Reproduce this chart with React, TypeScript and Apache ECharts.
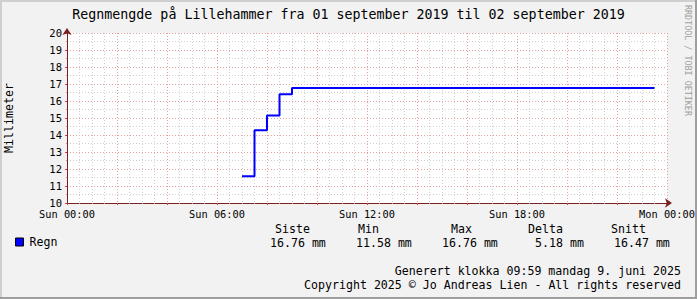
import React, { useEffect, useRef } from "react";
import * as echarts from "echarts";

// Hours since Sun 00:00 and accumulated rain (mm)
const hours = [7, 7.5, 8, 8.5, 9, 23.5];
const rain = [11.58, 14.28, 15.15, 16.4, 16.76, 16.76];

const xTickLabels = ["Sun 00:00", "Sun 06:00", "Sun 12:00", "Sun 18:00", "Mon 00:00"];
const statHeaders = ["Siste", "Min", "Max", "Delta", "Snitt"];
const statValues = ["16.76 mm", "11.58 mm", "16.76 mm", "5.18 mm", "16.47 mm"];
const headerX = [275, 358, 451, 528, 611];
const valueX = [270, 356, 442, 535, 614];

const titleText = "Regnmengde på Lillehammer fra 01 september 2019 til 02 september 2019";
const footer1 = "Generert klokka 09:59 mandag 9. juni 2025";
const footer2 = "Copyright 2025 © Jo Andreas Lien - All rights reserved";
const watermark = "RRDTOOL / TOBI OETIKER";

const MONO = "'DejaVu Sans Mono', monospace";

export default function App() {
  const ref = useRef<HTMLDivElement>(null);
  useEffect(() => {
    if (!ref.current) return;
    const chart = echarts.init(ref.current, null, { renderer: "svg" });
    const W = 697, H = 299;
    const txt = (x: number, y: number, text: string, size: number, align = "left", fill = "#000", extra: any = {}) => ({
      type: "text",
      x, y,
      silent: true,
      style: { text, fill, font: `${size}px ${MONO}`, textAlign: align, textVerticalAlign: "middle" },
      ...extra,
    });
    const graphics: any[] = [
      { type: "rect", shape: { x: 0, y: 0, width: W, height: 2 }, style: { fill: "#cfcfcf" }, z: -1 },
      { type: "rect", shape: { x: 0, y: 0, width: 2, height: H }, style: { fill: "#cfcfcf" }, z: -1 },
      { type: "rect", shape: { x: 0, y: H - 2, width: W, height: 2 }, style: { fill: "#9e9e9e" }, z: -1 },
      { type: "rect", shape: { x: W - 2, y: 0, width: 2, height: H }, style: { fill: "#9e9e9e" }, z: -1 },
      txt(688, 5, watermark, 8.4, "left", "#a0a0a0", { rotation: -Math.PI / 2 }),
      txt(W / 2, 14, titleText, 13.3, "center"),
    ];
    statHeaders.forEach((h, i) => graphics.push(txt(headerX[i], 229, h, 11.6)));
    statValues.forEach((v, i) => graphics.push(txt(valueX[i], 243, v, 11.6)));
    graphics.push(txt(681, 271, footer1, 11.6, "right"));
    graphics.push(txt(681, 285, footer2, 11.6, "right"));

    const axisColor = "#7a2020";
    chart.setOption({
      animation: false,
      backgroundColor: "#f2f2f2",
      grid: {
        left: 67, top: 33, width: 600, height: 170,
        outerBoundsMode: "none", containLabel: false,
        show: true, backgroundColor: "#ffffff", borderWidth: 0,
      },
      legend: {
        left: 15, top: 236, padding: 0, itemWidth: 8, itemHeight: 8, icon: "rect",
        itemGap: 10,
        textStyle: { fontFamily: MONO, fontSize: 11.6, color: "#000", padding: [0, 0, 0, 1] },
        data: [{ name: "Regn", itemStyle: { color: "#0000ff", borderColor: "#000", borderWidth: 1 } }],
      },
      xAxis: {
        type: "value", min: 0, max: 24, interval: 2,
        axisLine: { show: true, lineStyle: { color: axisColor, width: 1 }, symbol: ["none", "arrow"], symbolSize: [7, 7], symbolOffset: [0, 5] },
        axisTick: { show: true, length: 2, lineStyle: { color: "#d04040" } },
        minorTick: { show: true, splitNumber: 4, length: 1, lineStyle: { color: "#a0a0a0" } },
        axisLabel: {
          fontFamily: MONO, fontSize: 10.3, color: "#000", margin: 6, lineHeight: 9,
          showMinLabel: true, showMaxLabel: true,
          formatter: (v: number) => (v % 6 === 0 ? xTickLabels[v / 6] : ""),
        },
        splitLine: { show: true, lineStyle: { color: "#e6a0a0", type: [1, 2], width: 1 } },
        minorSplitLine: { show: true, lineStyle: { color: "#d0d0d0", type: [1, 2], width: 1 } },
      },
      yAxis: {
        type: "value", min: 10, max: 20, interval: 1,
        name: "Millimeter", nameLocation: "middle", nameGap: 52, nameRotate: 90,
        nameTextStyle: { fontFamily: MONO, fontSize: 11.6, color: "#000" },
        axisLine: { show: true, lineStyle: { color: axisColor, width: 1 }, symbol: ["none", "arrow"], symbolSize: [7, 7], symbolOffset: [0, 5] },
        axisTick: { show: true, length: 2, lineStyle: { color: "#d04040" } },
        minorTick: { show: true, splitNumber: 2, length: 1, lineStyle: { color: "#a0a0a0" } },
        axisLabel: { fontFamily: MONO, fontSize: 10.5, color: "#000", margin: 5, lineHeight: 9 },
        splitLine: { show: true, lineStyle: { color: "#e6a0a0", type: [1, 2], width: 1 } },
        minorSplitLine: { show: true, lineStyle: { color: "#d0d0d0", type: [1, 2], width: 1 } },
      },
      series: [
        {
          name: "Regn", type: "line", step: "end", showSymbol: false,
          lineStyle: { color: "#0000ff", width: 2 },
          itemStyle: { color: "#0000ff" },
          data: hours.map((h, i) => [h, rain[i]]),
        },
      ],
      graphic: graphics,
    });
    return () => chart.dispose();
  }, []);
  return <div ref={ref} style={{ position: "fixed", left: 0, top: 0, width: 697, height: 299 }} />;
}
